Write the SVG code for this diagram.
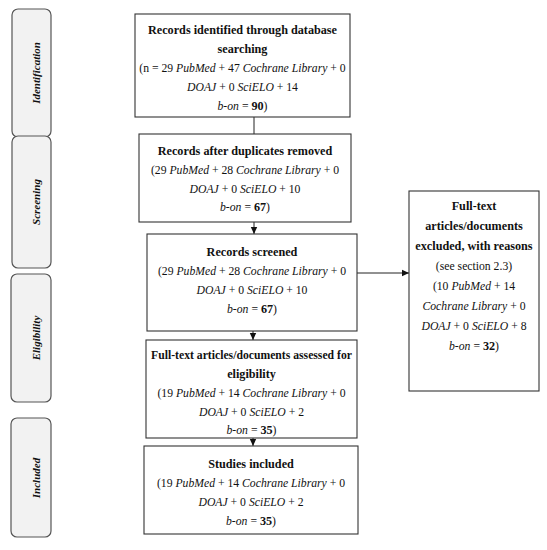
<svg xmlns="http://www.w3.org/2000/svg" width="547" height="550" viewBox="0 0 547 550">
<defs>
<style>
.stage{fill:#f2f2f2;stroke:#555;stroke-width:1.2}
.box{fill:#fff;stroke:#333;stroke-width:1.1}
text{font-family:"Liberation Serif","Times New Roman",serif;font-size:11.7px;fill:#111;text-anchor:middle}
.b{font-weight:bold;font-size:12.2px}
.i{font-style:italic}
.lab{font-weight:bold;font-style:italic;font-size:11px}
.con{stroke:#222;stroke-width:1;fill:none}
</style>
<marker id="arr" markerWidth="8" markerHeight="8" refX="7" refY="4" orient="auto" markerUnits="userSpaceOnUse">
<path d="M0,0.8 L7,4 L0,7.2 Z" fill="#111"/>
</marker>
</defs>
<rect width="547" height="550" fill="#fff"/>
<g id="stage-identification"><rect class="stage" x="12" y="9" width="39" height="128" rx="6"/><text class="lab" transform="translate(40,73) rotate(-90)">Identification</text></g>
<g id="stage-screening"><rect class="stage" x="12" y="136" width="39" height="132" rx="6"/><text class="lab" transform="translate(40,202) rotate(-90)">Screening</text></g>
<g id="stage-eligibility"><rect class="stage" x="11" y="274" width="40" height="128" rx="6"/><text class="lab" transform="translate(40,338) rotate(-90)">Eligibility</text></g>
<g id="stage-included"><rect class="stage" x="11" y="418" width="40" height="119" rx="6"/><text class="lab" transform="translate(40,478) rotate(-90)">Included</text></g>
<g id="connectors">
<line class="con" x1="254" y1="103" x2="254" y2="134"/>
<line class="con" x1="254" y1="222" x2="254" y2="234" marker-end="url(#arr)"/>
<line class="con" x1="253" y1="331" x2="253" y2="340" marker-end="url(#arr)"/>
<line class="con" x1="253" y1="438" x2="253" y2="446" marker-end="url(#arr)"/>
<line class="con" x1="357" y1="273" x2="409" y2="273" marker-end="url(#arr)"/>
</g>
<g id="identified"><rect class="box" x="135" y="14" width="215" height="103"/>
<text x="242.5" y="34" class="b">Records identified through database</text>
<text x="242.5" y="53" class="b">searching</text>
<text x="242.5" y="72">(n = 29 <tspan class="i">PubMed</tspan> + 47 <tspan class="i">Cochrane Library</tspan> + 0</text>
<text x="242.5" y="91"><tspan class="i">DOAJ</tspan> + 0 <tspan class="i">SciELO</tspan> + 14</text>
<text x="242.5" y="110"><tspan class="i">b-on</tspan> = <tspan class="b">90</tspan>)</text></g>
<g id="deduplicated"><rect class="box" x="139" y="134" width="212" height="88"/>
<text x="245" y="155" class="b">Records after duplicates removed</text>
<text x="245" y="174">(29 <tspan class="i">PubMed</tspan> + 28 <tspan class="i">Cochrane Library</tspan> + 0</text>
<text x="245" y="193"><tspan class="i">DOAJ</tspan> + 0 <tspan class="i">SciELO</tspan> + 10</text>
<text x="245" y="211"><tspan class="i">b-on</tspan> = <tspan class="b">67</tspan>)</text></g>
<g id="screened"><rect class="box" x="147" y="234" width="210" height="97"/>
<text x="252" y="256" class="b">Records screened</text>
<text x="252" y="275">(29 <tspan class="i">PubMed</tspan> + 28 <tspan class="i">Cochrane Library</tspan> + 0</text>
<text x="252" y="294"><tspan class="i">DOAJ</tspan> + 0 <tspan class="i">SciELO</tspan> + 10</text>
<text x="252" y="313"><tspan class="i">b-on</tspan> = <tspan class="b">67</tspan>)</text></g>
<g id="excluded"><rect class="box" x="409" y="191" width="130" height="200"/>
<text x="474" y="210" class="b">Full-text</text>
<text x="474" y="230" class="b">articles/documents</text>
<text x="474" y="250" class="b">excluded, with reasons</text>
<text x="474" y="270">(see section 2.3)</text>
<text x="474" y="290">(10 <tspan class="i">PubMed</tspan> + 14</text>
<text x="474" y="310"><tspan class="i">Cochrane Library</tspan> + 0</text>
<text x="474" y="330"><tspan class="i">DOAJ</tspan> + 0 <tspan class="i">SciELO</tspan> + 8</text>
<text x="474" y="350"><tspan class="i">b-on</tspan> = <tspan class="b">32</tspan>)</text></g>
<g id="assessed"><rect class="box" x="146" y="340" width="211" height="98"/>
<text x="251.5" y="359" class="b" style="font-size:11.7px">Full-text articles/documents assessed for</text>
<text x="251.5" y="378" class="b">eligibility</text>
<text x="251.5" y="397">(19 <tspan class="i">PubMed</tspan> + 14 <tspan class="i">Cochrane Library</tspan> + 0</text>
<text x="251.5" y="416"><tspan class="i">DOAJ</tspan> + 0 <tspan class="i">SciELO</tspan> + 2</text>
<text x="251.5" y="434"><tspan class="i">b-on</tspan> = <tspan class="b">35</tspan>)</text></g>
<g id="included"><rect class="box" x="144" y="446" width="214" height="88"/>
<text x="251" y="468" class="b">Studies included</text>
<text x="251" y="487">(19 <tspan class="i">PubMed</tspan> + 14 <tspan class="i">Cochrane Library</tspan> + 0</text>
<text x="251" y="506"><tspan class="i">DOAJ</tspan> + 0 <tspan class="i">SciELO</tspan> + 2</text>
<text x="251" y="525"><tspan class="i">b-on</tspan> = <tspan class="b">35</tspan>)</text></g>
</svg>
